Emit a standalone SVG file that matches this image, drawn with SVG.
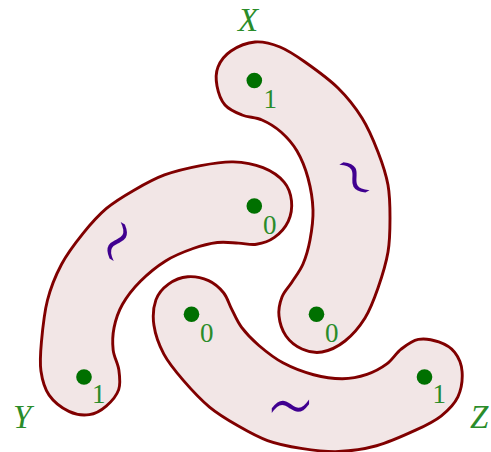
<svg xmlns="http://www.w3.org/2000/svg" xmlns:xlink="http://www.w3.org/1999/xlink" width="491" height="452" viewBox="0 0 491 452">
<style>
.bean{fill:#f2e6e6;stroke:#800000;stroke-width:2.9;stroke-linejoin:round}
.dot{fill:#007000}
.num{font-family:"Liberation Serif","DejaVu Serif",serif;font-size:27px;fill:#2a8c2a}
.var{font-family:"Liberation Serif","DejaVu Serif",serif;font-style:italic;font-size:33px;fill:#2a8c2a}
.tl{font-family:"DejaVu Sans",sans-serif;font-weight:200;font-size:54px;fill:#400090;text-anchor:middle}
</style>
<defs>
<path id="bean" d="M255,42 C263.17,41.33 271.67,43.67 280,47 C288.33,50.33 295.33,55.17 305,62 C314.67,68.83 328.5,78.67 338,88 C347.5,97.33 355.33,107.33 362,118 C368.67,128.67 373.67,140.83 378,152 C382.33,163.17 386,174 388,185 C390,196 390,206.83 390,218 C390,229.17 390,240.33 388,252 C386,263.67 381.83,277 378,288 C374.17,299 370.5,309.17 365,318 C359.5,326.83 352.17,335.33 345,341 C337.83,346.67 329.17,350.67 322,352 C314.83,353.33 308,351.67 302,349 C296,346.33 289.83,341.5 286,336 C282.17,330.5 279.67,322.5 279,316 C278.33,309.5 279.83,302.67 282,297 C284.17,291.33 288.5,287.5 292,282 C295.5,276.5 300,271 303,264 C306,257 308.33,249 310,240 C311.67,231 313.33,220.33 313,210 C312.67,199.67 310.67,187.83 308,178 C305.33,168.17 301.5,158.67 297,151 C292.5,143.33 286.83,137.17 281,132 C275.17,126.83 268.5,122.83 262,120 C255.5,117.17 248.17,117.5 242,115 C235.83,112.5 229.17,109.83 225,105 C220.83,100.17 218.17,92.33 217,86 C215.83,79.67 215.67,72.83 218,67 C220.33,61.17 224.83,55.17 231,51 C237.17,46.83 246.83,42.67 255,42 Z"/>
</defs>
<g id="X">
<use xlink:href="#bean" class="bean"/>
<text class="tl" transform="translate(350,180) rotate(60) scale(1.45,1.9)" dy="0.3em">∼</text>
<circle class="dot" cx="254.3" cy="80.5" r="7.8"/>
<circle class="dot" cx="316.5" cy="314.3" r="7.8"/>
<text class="num" x="263.5" y="108">1</text>
<text class="num" x="325" y="342">0</text>
<text class="var" x="238" y="31">X</text>
</g>
<g id="Y">
<use xlink:href="#bean" class="bean" transform="rotate(240 254 278)"/>
<text class="tl" transform="translate(121.5,244) rotate(-60) scale(1.45,1.9)" dy="0.3em">∼</text>
<circle class="dot" cx="254.3" cy="206" r="7.8"/>
<circle class="dot" cx="84" cy="377" r="7.8"/>
<text class="num" x="263" y="234">0</text>
<text class="num" x="92" y="403">1</text>
<text class="var" x="13" y="428">Y</text>
</g>
<g id="Z">
<use xlink:href="#bean" class="bean" transform="rotate(120 254 278)"/>
<text class="tl" transform="translate(290.5,411) scale(1.45,1.9)" dy="0.3em">∼</text>
<circle class="dot" cx="191.5" cy="314.3" r="7.8"/>
<circle class="dot" cx="424.5" cy="377" r="7.8"/>
<text class="num" x="200" y="342">0</text>
<text class="num" x="432.5" y="403">1</text>
<text class="var" x="470" y="428">Z</text>
</g>
<g id="connectors"/>
</svg>
